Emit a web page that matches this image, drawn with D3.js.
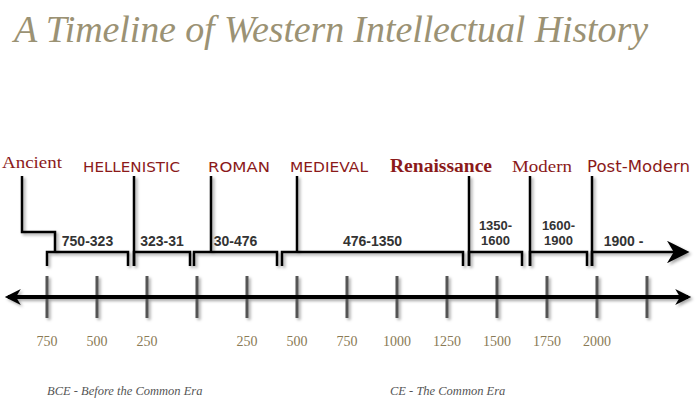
<!DOCTYPE html>
<html><head><meta charset="utf-8">
<script src="https://cdn.jsdelivr.net/npm/d3@7"></script>
<style>body{margin:0;background:#fff}</style></head>
<body><svg id="c" width="700" height="405"></svg>
<script>
const eras = ["Ancient","HELLENISTIC","ROMAN","MEDIEVAL","Renaissance","Modern","Post-Modern"];
const eraRanges = [["750-323"],["323-31"],["30-476"],["476-1350"],["1350-","1600"],["1600-","1900"],["1900 -"]];
// bracket bounds, in signed years (BCE negative)
const bracketStart = [-750,-315,-15,425,1360,1665,1975];
const bracketEnd   = [-345,-35,400,1330,1625,1950,2440];
const tickYears = [-750,-500,-250,0,250,500,750,1000,1250,1500,1750,2000,2250];
const tickLabels = ["750","500","250","","250","500","750","1000","1250","1500","1750","2000",""];

const svg = d3.select("#c");
const x = d3.scaleLinear().domain([0,2000]).range([197,597]);
const defs = svg.append("defs");
const f = defs.append("filter").attr("id","sh").attr("x","-20%").attr("y","-20%").attr("width","150%").attr("height","150%");
f.append("feDropShadow").attr("dx",2).attr("dy",2).attr("stdDeviation",1.5).attr("flood-color","#000").attr("flood-opacity",0.35);
defs.append("marker").attr("id","big").attr("viewBox","0 0 10 10").attr("refX",8).attr("refY",5)
  .attr("markerWidth",22).attr("markerHeight",16).attr("orient","auto-start-reverse").attr("markerUnits","userSpaceOnUse")
  .append("path").attr("d","M0,0 L10,5 L0,10 L3,5 Z").attr("fill","#000");
defs.append("marker").attr("id","sm").attr("viewBox","0 0 10 10").attr("refX",8).attr("refY",5)
  .attr("markerWidth",12).attr("markerHeight",9).attr("orient","auto")
  .append("path").attr("d","M0,0 L10,5 L0,10 L3,5 Z").attr("fill","#000");

svg.append("text").attr("x",14).attr("y",42).attr("font-family","Liberation Serif").attr("font-style","italic")
  .attr("font-size",38).attr("textLength",634).attr("fill","#9b9274").text("A Timeline of Western Intellectual History");

const g = svg.append("g").attr("filter","url(#sh)");
g.selectAll(".t").data(tickYears).join("line").attr("x1",d=>x(d)).attr("x2",d=>x(d))
  .attr("y1",276).attr("y2",318).attr("stroke","#555").attr("stroke-width",3);
g.append("line").attr("x1",8).attr("x2",688).attr("y1",297).attr("y2",297).attr("stroke","#000").attr("stroke-width",4)
  .attr("marker-start","url(#big)").attr("marker-end","url(#big)");
eras.forEach((e,i)=>{
  const a=x(bracketStart[i]), b=x(bracketEnd[i]);
  if(i<6){
    g.append("path").attr("d",`M${a},266 V252 H${b} V266`).attr("fill","none").attr("stroke","#000").attr("stroke-width",2.5);
  } else {
    g.append("path").attr("d",`M${a},266 V252 H${b}`).attr("fill","none").attr("stroke","#000").attr("stroke-width",2.5).attr("marker-end","url(#sm)");
  }
  if(i===0){
    g.append("path").attr("d",`M22,176 V232 H55 V252`).attr("fill","none").attr("stroke","#000").attr("stroke-width",2.5);
  } else {
    const lx = i===2?211:(i===3?297:a);
    g.append("line").attr("x1",lx).attr("x2",lx).attr("y1",176).attr("y2",i===2||i===3?252:266).attr("stroke","#000").attr("stroke-width",2.5);
  }
  const mid=(a+b)/2 + (i===6? -15:0);
  const lines=eraRanges[i];
  lines.forEach((s,k)=>{
    svg.append("text").attr("x",mid).attr("y",lines.length===1?246:230+k*15).attr("text-anchor","middle")
      .attr("font-family","Liberation Sans").attr("font-weight","bold").attr("font-size",lines.length===1?14:13).attr("fill","#333").text(s);
  });
});
const eraX=[2,83,208,290,390,512,587];
const eraFont=["Liberation Serif","DejaVu Sans","DejaVu Sans","DejaVu Sans","Liberation Serif","Liberation Serif","DejaVu Sans"];
const eraSize=[17,14,14,14,18,17,15];
const eraLen=[60,97,62,78,102,60,103];
svg.selectAll(".era").data(eras).join("text").attr("x",(d,i)=>eraX[i]).attr("y",(d,i)=>i===0?168:172)
  .attr("font-family",(d,i)=>eraFont[i]).attr("font-size",(d,i)=>eraSize[i]).attr("textLength",(d,i)=>eraLen[i])
  .attr("lengthAdjust","spacingAndGlyphs")
  .attr("font-weight",(d,i)=>i===4?"bold":"normal").attr("fill","#8b1a1a").text(d=>d);
svg.selectAll(".tl").data(tickYears).join("text").attr("x",d=>x(d)).attr("y",346).attr("text-anchor","middle")
  .attr("font-family","Liberation Serif").attr("font-size",14).attr("fill","#8a7a55").text((d,i)=>tickLabels[i]);
svg.append("text").attr("x",47).attr("y",395).attr("font-family","Liberation Serif").attr("font-style","italic")
  .attr("font-size",12.5).attr("fill","#555").text("BCE - Before the Common Era");
svg.append("text").attr("x",390).attr("y",395).attr("font-family","Liberation Serif").attr("font-style","italic")
  .attr("font-size",12.5).attr("fill","#555").text("CE - The Common Era");
</script></body></html>
